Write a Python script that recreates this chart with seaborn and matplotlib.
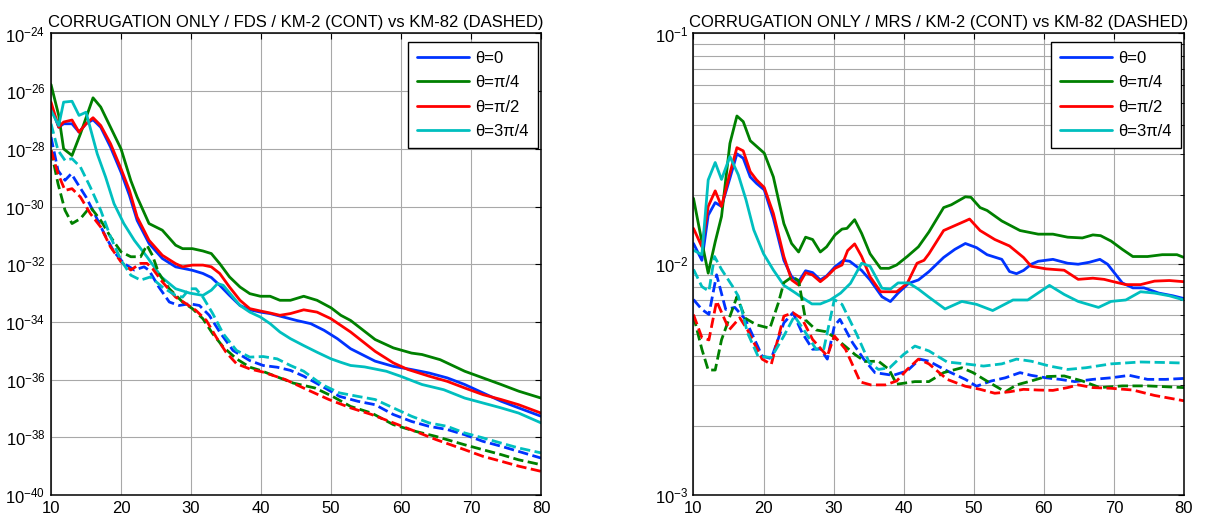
import matplotlib
matplotlib.use("Agg")
import matplotlib.pyplot as plt
import numpy as np
import pandas as pd
import seaborn as sns
from matplotlib.ticker import NullLocator

LABELS = ["θ=0", "θ=π/4", "θ=π/2", "θ=3π/4"]
COLORS = ["#0033ff", "#008000", "#ff0000", "#00bfbf"]
TITLE_FDS = "CORRUGATION ONLY / FDS / KM-2 (CONT) vs KM-82 (DASHED)"
TITLE_MRS = "CORRUGATION ONLY / MRS / KM-2 (CONT) vs KM-82 (DASHED)"

# FDS panel: (x, log10 value) pairs
FDS_KM2_T0 = [(10, -26.55), (11.1, -27.25), (11.8, -27.13), (13, -27.13), (14, -27.42), (15, -27.13), (16, -26.99),
              (17.1, -27.25), (18.5, -27.94), (20, -28.81), (21.2, -29.61), (22.3, -30.48), (24, -31.28),
              (25.9, -31.8), (27.8, -32.09), (30.2, -32.21), (31.7, -32.32), (32.9, -32.46), (34.1, -32.73),
              (35.5, -33.08), (37, -33.43), (38.4, -33.58), (39.9, -33.66), (41.3, -33.71), (43.2, -33.83),
              (45.1, -33.95), (47.1, -34.06), (49, -34.29), (50.9, -34.58), (52.8, -34.93), (56.3, -35.36),
              (58.9, -35.54), (61.5, -35.65), (64, -35.77), (66.6, -35.94), (69.1, -36.17), (71.7, -36.46),
              (74.3, -36.75), (76.8, -36.98), (80, -37.27)]
FDS_KM2_T1 = [(10, -25.77), (11.1, -26.84), (11.8, -28.0), (13, -28.23), (14.2, -27.48), (16, -26.23),
              (17.1, -26.55), (18.5, -27.25), (20, -28.0), (21.4, -29.1), (22.3, -29.67), (24, -30.59),
              (25.9, -30.82), (27.8, -31.34), (28.8, -31.46), (30.2, -31.46), (31.7, -31.54), (32.9, -31.63),
              (34.1, -31.98), (35.5, -32.44), (37, -32.79), (38.4, -33.02), (39.9, -33.11), (41.3, -33.11),
              (42.7, -33.25), (44.2, -33.25), (46.1, -33.11), (48, -33.25), (50, -33.51), (51.4, -33.77),
              (52.8, -33.95), (56.3, -34.61), (58.9, -34.9), (61.5, -35.08), (63, -35.13), (65.6, -35.31),
              (69.1, -35.71), (71.7, -35.94), (74.3, -36.17), (76.8, -36.4), (80, -36.64)]
FDS_KM2_T2 = [(10, -26.38), (11.1, -27.25), (11.8, -27.07), (13, -27.0), (14, -27.42), (15, -27.13), (16, -26.92),
              (17.1, -27.19), (18.5, -27.82), (20, -28.69), (21.2, -29.44), (22.3, -30.36), (24, -31.17),
              (25.9, -31.69), (27.8, -31.98), (28.8, -32.09), (30.2, -32.03), (31.7, -32.03), (32.9, -32.09),
              (34.1, -32.32), (35.5, -32.79), (37, -33.25), (38.4, -33.54), (39.9, -33.62), (41.3, -33.69),
              (42.7, -33.77), (44.2, -33.71), (46.1, -33.58), (48, -33.66), (50, -33.89), (51.4, -34.12),
              (52.8, -34.35), (56.3, -35.02), (58.9, -35.42), (61, -35.65), (64, -35.88), (66.6, -36.06),
              (69.1, -36.29), (71.7, -36.52), (74.3, -36.69), (76.8, -36.87), (80, -37.16)]
FDS_KM2_T3 = [(10, -26.67), (11.1, -27.19), (11.8, -26.38), (13, -26.35), (14, -26.84), (15, -26.73),
              (16.6, -28.17), (17.8, -28.98), (19, -29.9), (20.4, -30.59), (21.9, -31.17), (23.7, -31.74),
              (25.8, -32.45), (27.8, -32.85), (29.8, -33.0), (31.7, -33.08), (32.9, -32.9), (33.8, -32.67),
              (34.6, -32.73), (35.8, -33.08), (37, -33.43), (38.4, -33.66), (39.9, -33.83), (41.3, -34.06),
              (42.7, -34.35), (44.2, -34.58), (46.1, -34.82), (48, -35.05), (50, -35.28), (51.4, -35.4),
              (52.8, -35.51), (54.8, -35.56), (57.9, -35.71), (59.9, -35.88), (63, -36.17), (66.1, -36.35),
              (69.1, -36.64), (71.7, -36.81), (74.3, -36.98), (76.8, -37.16), (80, -37.5)]
FDS_KM82_T0 = [(10, -27.59), (11, -28.75), (12, -29.09), (12.9, -28.86), (13.8, -29.21), (15, -29.67),
               (16.2, -30.24), (17.6, -30.94), (19, -31.57), (20.4, -31.97), (21.9, -32.2), (23.3, -32.09),
               (24, -32.21), (25.4, -32.79), (26.9, -33.31), (28.3, -33.43), (29.8, -33.37), (31.2, -33.43),
               (32.6, -33.77), (34.1, -34.35), (36, -34.99), (38.4, -35.34), (40.3, -35.51), (42.3, -35.57),
               (44.2, -35.68), (46.1, -35.88), (48.7, -36.23), (51.2, -36.58), (53.8, -36.75), (56.3, -36.87),
               (58.9, -37.21), (61.5, -37.45), (64, -37.62), (66.6, -37.73), (69.1, -37.91), (71.7, -38.14),
               (74.3, -38.31), (76.8, -38.49), (80, -38.72)]
FDS_KM82_T1 = [(10, -28.05), (11, -29.21), (12, -30.13), (13, -30.59), (14.2, -30.42), (15.6, -30.01),
               (17.1, -30.48), (18.5, -31.05), (20, -31.57), (21.4, -31.74), (22.8, -31.74), (23.7, -31.34),
               (24.5, -31.7), (25.4, -32.32), (26.9, -32.85), (28.8, -33.31), (30.2, -33.54), (31.7, -33.89),
               (33.1, -34.41), (34.6, -34.87), (36.5, -35.28), (38.4, -35.57), (39.9, -35.68), (41.5, -35.83),
               (44.6, -36.12), (47.7, -36.29), (50.2, -36.58), (52.8, -36.93), (55.8, -37.16), (58.9, -37.56),
               (62, -37.79), (65, -37.97), (69.1, -38.26), (71.7, -38.43), (74.3, -38.6), (76.8, -38.78),
               (80, -38.95)]
FDS_KM82_T2 = [(10, -28.05), (11, -28.86), (12, -29.44), (13, -29.38), (14.2, -29.67), (15.6, -30.24),
               (17.1, -30.71), (18.5, -31.4), (20, -31.92), (21.4, -32.2), (22.8, -31.97), (23.7, -31.97),
               (24.5, -32.15), (25.9, -32.61), (27.8, -33.14), (29.3, -33.37), (30.7, -33.6), (32.2, -33.95),
               (33.6, -34.53), (35, -35.05), (36.5, -35.45), (38.4, -35.63), (40.3, -35.74), (43.5, -36.0),
               (46.6, -36.35), (49.7, -36.69), (52.8, -36.98), (55.8, -37.21), (58.9, -37.5), (62, -37.79),
               (65, -38.08), (69.1, -38.43), (71.7, -38.66), (74.3, -38.83), (76.8, -39.0), (80, -39.18)]
FDS_KM82_T3 = [(10, -27.13), (11, -28.05), (12, -28.4), (13, -28.34), (14.2, -28.63), (15.6, -29.32),
               (17.1, -30.13), (18.5, -31.05), (20, -31.86), (21.4, -32.38), (22.8, -32.55), (24.2, -32.44),
               (25.9, -32.79), (27.8, -33.08), (28.8, -33.14), (29.8, -32.85), (30.7, -32.85), (31.7, -33.14),
               (33.1, -33.71), (34.6, -34.41), (36.5, -34.99), (38.4, -35.22), (40.3, -35.2), (42.3, -35.28),
               (44.2, -35.51), (46.1, -35.71), (48.7, -36.17), (51.2, -36.46), (53.8, -36.58), (56.3, -36.69),
               (58.9, -36.98), (61.5, -37.27), (64, -37.5), (66.6, -37.62), (69.1, -37.85), (71.7, -38.02),
               (74.3, -38.2), (76.8, -38.37), (80, -38.54)]

# MRS panel: (x, value) pairs
MRS_KM2_T0 = [(10, 0.0123), (11.2, 0.0104), (12.1, 0.0163), (13.1, 0.0185), (14, 0.0178), (15.2, 0.0236),
              (16.2, 0.0301), (17.1, 0.0288), (18.1, 0.0239), (19, 0.0224), (20.1, 0.0210), (21.4, 0.0158),
              (22.9, 0.0104), (24, 0.00883), (25, 0.0084), (26, 0.00937), (27, 0.0092), (28.1, 0.00855),
              (29, 0.0089), (30.2, 0.00975), (31.4, 0.0104), (32.3, 0.0103), (34, 0.0094), (35.2, 0.00855),
              (36.9, 0.00723), (38.1, 0.00689), (39.2, 0.0075), (40.7, 0.00826), (42.1, 0.00855), (43.6, 0.00929),
              (45.7, 0.0107), (47.3, 0.0116), (48.8, 0.0123), (50.4, 0.0118), (51.9, 0.0110), (54, 0.0105),
              (55.1, 0.0093), (56.1, 0.0091), (57.1, 0.0094), (58.2, 0.0100), (59.2, 0.0103), (61.3, 0.0105),
              (63.4, 0.0101), (64.9, 0.0100), (66.5, 0.0102), (68, 0.0105), (69.1, 0.0100), (71.2, 0.0083),
              (72.7, 0.0079), (74.3, 0.0079), (76.4, 0.0075), (78.4, 0.0073), (80, 0.0071)]
MRS_KM2_T1 = [(10, 0.0193), (11.2, 0.0125), (12.1, 0.00915), (13.1, 0.0125), (14, 0.0161), (15.2, 0.0334),
              (16.2, 0.0439), (17.1, 0.0415), (18.1, 0.0343), (20.1, 0.0303), (21.4, 0.0239), (22.9, 0.0150),
              (24, 0.0123), (25, 0.0113), (26, 0.0131), (27, 0.0128), (28.1, 0.0113), (29, 0.0119), (30.2, 0.0134),
              (31.2, 0.0142), (31.9, 0.0143), (33, 0.0156), (34, 0.0136), (35.2, 0.0111), (36.7, 0.0096),
              (37.9, 0.0096), (39, 0.00993), (40.5, 0.0108), (42.1, 0.0119), (43.6, 0.0138), (45.7, 0.0176),
              (46.8, 0.0181), (48.8, 0.0196), (49.6, 0.0195), (50.9, 0.0176), (51.9, 0.0171), (54, 0.0154),
              (56.6, 0.0140), (59.2, 0.0135), (61.3, 0.0135), (63.4, 0.0131), (65.5, 0.0130), (67, 0.0134),
              (68.1, 0.0133), (69.6, 0.0126), (71.2, 0.0116), (72.7, 0.0108), (74.8, 0.0108), (76.9, 0.0110),
              (79, 0.0110), (80, 0.0107)]
MRS_KM2_T2 = [(10, 0.0143), (11.2, 0.0119), (12.1, 0.0178), (13.1, 0.0208), (14, 0.0178), (15.2, 0.0248),
              (16.2, 0.0320), (17.1, 0.0310), (18.1, 0.0252), (19, 0.0232), (20.1, 0.0215), (21.4, 0.0166),
              (22.9, 0.0108), (24, 0.00855), (25, 0.00813), (26, 0.00919), (27, 0.00898), (28.1, 0.0084),
              (29, 0.00883), (30.2, 0.0096), (31.2, 0.00993), (32, 0.01146), (33, 0.01225), (34, 0.0108),
              (35.2, 0.00883), (36.7, 0.0076), (37.9, 0.0076), (39, 0.0076), (40.5, 0.00826), (41.9, 0.0101),
              (42.9, 0.0104), (43.6, 0.0111), (45.7, 0.0140), (48.8, 0.0154), (49.4, 0.0157), (50.9, 0.0140),
              (53, 0.0128), (55.1, 0.0120), (57.1, 0.0107), (58.2, 0.0098), (60.3, 0.00955), (62.9, 0.00942),
              (64.9, 0.0086), (67, 0.0087), (68.6, 0.0086), (69.6, 0.00845), (71.7, 0.00816), (73.8, 0.00816),
              (75.8, 0.00845), (77.9, 0.0085), (80, 0.0084)]
MRS_KM2_T3 = [(10, 0.0115), (11.2, 0.0110), (12.1, 0.0232), (13.1, 0.0276), (14, 0.0233), (15.2, 0.0293),
              (16.4, 0.0244), (17.5, 0.0190), (18.6, 0.0141), (20, 0.0111), (21.4, 0.00944), (22.9, 0.0081),
              (24.3, 0.0076), (25.7, 0.00711), (26.9, 0.00673), (28.1, 0.00673), (29.5, 0.0070), (31, 0.0075),
              (32.4, 0.00826), (34, 0.0101), (35.2, 0.0098), (36.9, 0.00787), (38.1, 0.0078), (39.2, 0.0083),
              (40.7, 0.0083), (42.1, 0.0078), (43.6, 0.0072), (45.9, 0.0064), (48.3, 0.0069), (50.4, 0.0067),
              (52.7, 0.0063), (55.6, 0.0070), (57.7, 0.0070), (60.8, 0.0081), (62.9, 0.0074), (64.9, 0.0069),
              (67.8, 0.0065), (69.6, 0.0069), (71.7, 0.0070), (73.8, 0.0076), (75.8, 0.0075), (77.9, 0.0073),
              (80, 0.0070)]
MRS_KM82_T0 = [(10, 0.00703), (11.2, 0.00637), (12.2, 0.00606), (13.3, 0.0090), (14.6, 0.00637), (15.9, 0.0065),
               (17.4, 0.00577), (19.8, 0.0040), (21.1, 0.0039), (22.9, 0.00557), (24.2, 0.00616), (25.5, 0.00505),
               (27, 0.00428), (28.1, 0.0043), (29.1, 0.00388), (30.1, 0.0054), (30.9, 0.00577), (32.7, 0.00457),
               (34.3, 0.00388), (35.9, 0.00339), (38.5, 0.0033), (40.5, 0.00345), (42.3, 0.00388), (43.6, 0.0038),
               (46.2, 0.00345), (48.8, 0.00317), (50.4, 0.00296), (52.5, 0.00312), (54.5, 0.00322), (56.6, 0.00339),
               (58.2, 0.0033), (60.3, 0.00322), (62.3, 0.00317), (64.4, 0.0031), (67, 0.00317), (69.6, 0.00322),
               (72.2, 0.0033), (74.8, 0.00317), (77.4, 0.00317), (80, 0.0032)]
MRS_KM82_T1 = [(10, 0.00596), (11.2, 0.00428), (12.1, 0.00348), (13.1, 0.00348), (14, 0.0047), (16.2, 0.00723),
               (17.4, 0.00583), (19, 0.00546), (20.9, 0.00528), (22.1, 0.00678), (22.9, 0.00832), (24.1, 0.00883),
               (25, 0.0085), (26, 0.00573), (27.5, 0.00519), (28.9, 0.0051), (30, 0.00485), (31.7, 0.0044),
               (33.1, 0.00405), (34.5, 0.00379), (36.4, 0.0038), (37.9, 0.0035), (39, 0.00302), (41.6, 0.0031),
               (43.6, 0.0031), (45.7, 0.00339), (48.3, 0.00356), (49.9, 0.00339), (52, 0.0031), (54.5, 0.0028),
               (56.1, 0.0030), (58.2, 0.00312), (60.3, 0.00326), (62.9, 0.00328), (65.5, 0.00312), (68, 0.00292),
               (71.2, 0.00297), (74.8, 0.00297), (80, 0.00292)]
MRS_KM82_T2 = [(10, 0.00605), (11.2, 0.00481), (12.2, 0.0047), (13.3, 0.00692), (15.1, 0.0052), (16.6, 0.00586),
               (17.7, 0.0052), (19.8, 0.00388), (21.1, 0.00368), (22.9, 0.00596), (24.2, 0.00616), (25.5, 0.0058),
               (27, 0.00472), (29.1, 0.0040), (30.1, 0.00489), (31.7, 0.00428), (33.8, 0.00309), (35.3, 0.0030),
               (37.4, 0.0030), (39, 0.00312), (40.5, 0.0035), (42.1, 0.00388), (43.6, 0.0037), (46.2, 0.00317),
               (48.8, 0.00296), (50.9, 0.00287), (53, 0.00276), (55.1, 0.0028), (57.1, 0.00287), (59.2, 0.00285),
               (61.3, 0.00284), (63.4, 0.00292), (64.9, 0.0030), (67, 0.00292), (69.6, 0.0029), (72.7, 0.00285),
               (75.8, 0.0027), (80, 0.00256)]
MRS_KM82_T3 = [(10, 0.0095), (11.2, 0.0080), (12.2, 0.00764), (13, 0.0108), (14, 0.0095), (15.6, 0.0080),
               (16.4, 0.00727), (17.7, 0.00505), (19.2, 0.0040), (21.1, 0.00394), (22.9, 0.00489), (24.4, 0.00596),
               (25.7, 0.00522), (27.5, 0.00428), (28.6, 0.0043), (30.1, 0.00703), (31.2, 0.0067), (33.3, 0.00497),
               (35.1, 0.00374), (36.4, 0.0035), (38, 0.00356), (40, 0.00407), (41.6, 0.00442), (43.6, 0.00421),
               (46.2, 0.00377), (48.8, 0.0037), (51.4, 0.00362), (54, 0.0037), (56.1, 0.00388), (58.2, 0.0038),
               (60.8, 0.00362), (63.4, 0.0035), (66, 0.00356), (69.6, 0.0037), (73.8, 0.00377), (77.4, 0.00375),
               (80, 0.00373)]

sns.set_style("white")
plt.rcParams["font.family"] = ["Liberation Sans", "DejaVu Sans"]
plt.rcParams["mathtext.fontset"] = "custom"
plt.rcParams["mathtext.rm"] = "Liberation Sans"
plt.rcParams["mathtext.it"] = "Liberation Sans:italic"
plt.rcParams["axes.unicode_minus"] = False
plt.rcParams["text.color"] = "black"
plt.rcParams["xtick.color"] = "black"
plt.rcParams["ytick.color"] = "black"


def draw_series(ax, pts, color, dashed, label=None, log_values=False):
    df = pd.DataFrame(pts, columns=["x", "y"])
    if log_values:
        df["y"] = 10.0 ** df["y"]
    sns.lineplot(data=df, x="x", y="y", ax=ax, color=color, lw=2, linestyle="--" if dashed else "-",
                 label=label, sort=False, estimator=None, legend=label is not None)


def style_axes(ax, title):
    ax.set_xlim(10, 80)
    ax.set_xticks(np.arange(10, 81, 10))
    ax.set_xlabel("")
    ax.set_ylabel("")
    ax.set_title(title, fontsize=12, pad=5, color="black")
    for sp in ax.spines.values():
        sp.set_color("black")
        sp.set_linewidth(1.1)
    ax.tick_params(which="both", direction="in", top=True, right=True, labelsize=12, pad=4,
                   color="black", labelcolor="black")
    ax.tick_params(which="major", length=4)
    ax.tick_params(which="minor", length=3)
    ax.set_axisbelow(True)
    leg = ax.legend(loc="upper right", bbox_to_anchor=(0.994, 0.982), borderaxespad=0, fontsize=12,
                    handlelength=3.1, handletextpad=0.4, labelspacing=0.56, borderpad=0.55,
                    fancybox=False, framealpha=1, edgecolor="black")
    leg.get_frame().set_linewidth(1.0)


fig = plt.figure(figsize=(12.09, 5.2), dpi=100)
ax1 = fig.add_axes([0.0422, 0.0481, 0.4053, 0.8875])
ax2 = fig.add_axes([0.5736, 0.0481, 0.4057, 0.8875])

ax1.set_yscale("log")
fds_km2 = [FDS_KM2_T0, FDS_KM2_T1, FDS_KM2_T2, FDS_KM2_T3]
fds_km82 = [FDS_KM82_T0, FDS_KM82_T1, FDS_KM82_T2, FDS_KM82_T3]
for pts, c, lab in zip(fds_km2, COLORS, LABELS):
    draw_series(ax1, pts, c, False, lab, log_values=True)
for pts, c in zip(fds_km82, COLORS):
    draw_series(ax1, pts, c, True, log_values=True)
ax1.set_ylim(1e-40, 1e-24)
ax1.set_yticks(10.0 ** np.arange(-40, -23, 2))
ax1.yaxis.set_minor_locator(NullLocator())
ax1.grid(True, which="major", color="#a8a8a8", lw=0.8)
style_axes(ax1, TITLE_FDS)

ax2.set_yscale("log")
mrs_km2 = [MRS_KM2_T0, MRS_KM2_T1, MRS_KM2_T2, MRS_KM2_T3]
mrs_km82 = [MRS_KM82_T0, MRS_KM82_T1, MRS_KM82_T2, MRS_KM82_T3]
for pts, c, lab in zip(mrs_km2, COLORS, LABELS):
    draw_series(ax2, pts, c, False, lab)
for pts, c in zip(mrs_km82, COLORS):
    draw_series(ax2, pts, c, True)
ax2.set_ylim(1e-3, 1e-1)
ax2.grid(True, which="both", axis="y", color="#a8a8a8", lw=0.8)
ax2.grid(True, which="major", axis="x", color="#a8a8a8", lw=0.8)
style_axes(ax2, TITLE_MRS)

fig.savefig("out.png", dpi=100)
